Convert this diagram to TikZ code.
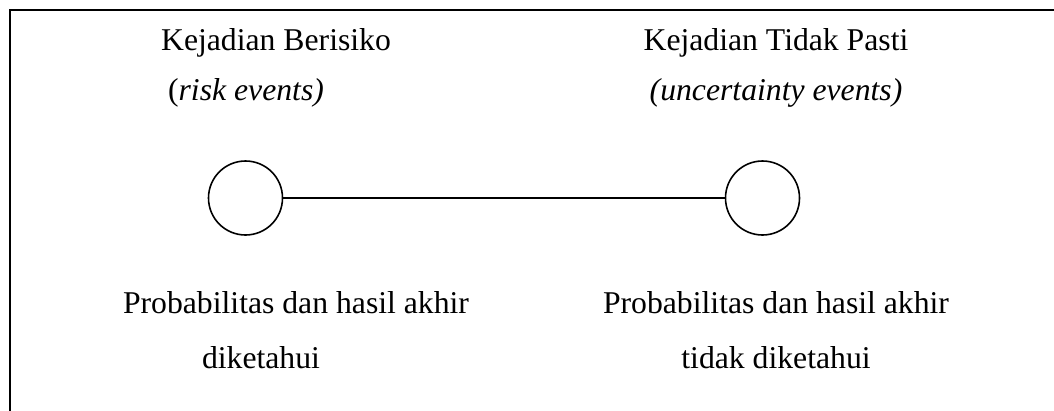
\documentclass[tikz,border=0pt]{standalone}
\usepackage{fontspec}
\setmainfont{Liberation Serif}
\usetikzlibrary{positioning}
\tikzset{
  lbl/.style={anchor=base,inner sep=0pt,font=\fontsize{31.7}{38}\selectfont},
  ev/.style={draw,circle,line width=1.6pt,minimum size=74pt,inner sep=0pt},
  link/.style={line width=1.6pt},
  frame/.style={line width=2pt},
}
\begin{document}
\begin{tikzpicture}[x=1pt,y=-1pt]
    \useasboundingbox (0,0) rectangle (1054,410);
    % --- frame (runs off the page on the right and bottom) ---
    \draw[frame] (1060,10) -- (10,10) -- (10,420);
    % --- risk events ---
    \node[lbl] (riskT)  at (276,50)  {Kejadian Berisiko};
    \node[lbl] (riskE)  at (246,100) {(\textit{risk events)}};
    \node[ev]  (riskC)  at (245.5,198) {};
    \node[lbl] (riskP1) at (296,313) {Probabilitas dan hasil akhir};
    \node[lbl] (riskP2) at (261,368) {diketahui};
    % --- uncertainty events ---
    \node[lbl] (uncT)  at (776,50)  {Kejadian Tidak Pasti};
    \node[lbl] (uncE)  at (776,100) {\textit{(uncertainty events)}};
    \node[ev]  (uncC)  at (762.5,198) {};
    \node[lbl] (uncP1) at (776,313) {Probabilitas dan hasil akhir};
    \node[lbl] (uncP2) at (776,368) {tidak diketahui};
    % --- continuum ---
    \draw[link] (riskC) -- (uncC);
\end{tikzpicture}
\end{document}
